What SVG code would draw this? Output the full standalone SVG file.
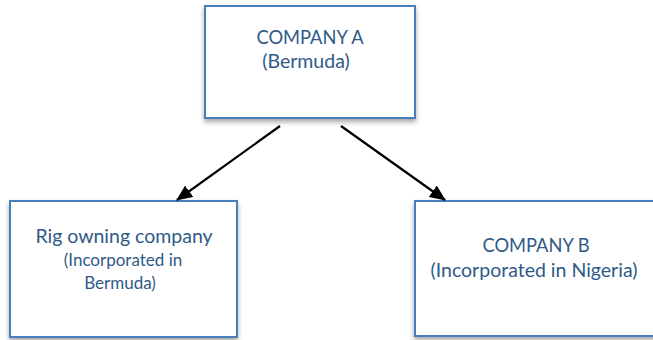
<svg xmlns="http://www.w3.org/2000/svg" width="653" height="340" viewBox="0 0 653 340">
<style>
.box{fill:#fff;stroke:#4a7ebb;stroke-width:2;filter:url(#sh)}
.t{font-family:Lato,"Open Sans",sans-serif;fill:#2f5a88;text-anchor:middle}
.big{font-size:19.5px}
.caps{font-size:18.3px}
.small{font-size:17px}
.c{stroke:#000;stroke-width:2.2;fill:none;marker-end:url(#ah)}
</style>
<defs>
<filter id="sh" x="-10%" y="-10%" width="120%" height="125%">
<feDropShadow dx="0" dy="3" stdDeviation="2.5" flood-color="#000" flood-opacity="0.35"/>
</filter>
<marker id="ah" markerWidth="16" markerHeight="14" refX="15" refY="7" orient="auto" markerUnits="userSpaceOnUse" viewBox="0 0 16 14">
<path d="M0,0 L16,7 L0,14 z" fill="#000"/>
</marker>
</defs>
<g id="nodeA">
<rect class="box" x="205" y="6" width="210" height="112"/>
<text class="t caps" x="310" y="44">COMPANY A</text>
<text class="t big" x="306" y="68">(Bermuda)</text>
</g>
<g id="nodeRig">
<rect class="box" x="10" y="201" width="227" height="136"/>
<text class="t big" x="124" y="243">Rig owning company</text>
<text class="t small" x="123" y="266">(Incorporated in</text>
<text class="t small" x="120" y="289">Bermuda)</text>
</g>
<g id="nodeB">
<rect class="box" x="415" y="201" width="250" height="135"/>
<text class="t caps" x="536" y="252">COMPANY B</text>
<text class="t big" x="534" y="277">(Incorporated in Nigeria)</text>
</g>
<g id="connectors">
<line class="c" x1="280" y1="126" x2="177" y2="200"/>
<line class="c" x1="341" y1="126" x2="445" y2="200"/>
</g>
</svg>
